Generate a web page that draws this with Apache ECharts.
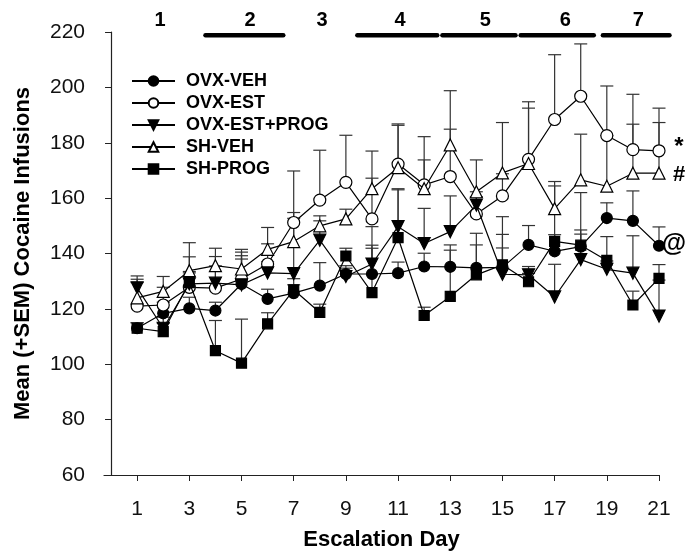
<!DOCTYPE html>
<html><head><meta charset="utf-8">
<script src="https://cdn.jsdelivr.net/npm/echarts@6/dist/echarts.min.js"></script>
<style>html,body{margin:0;padding:0;background:#fff}#c{width:689px;height:558px}</style>
</head><body><div id="c"></div>
<script>
const days = [1,2,3,4,5,6,7,8,9,10,11,12,13,14,15,16,17,18,19,20,21];
const xTicks = [1,3,5,7,9,11,13,15,17,19,21];
const seriesNames = ['OVX-VEH','OVX-EST','OVX-EST+PROG','SH-VEH','SH-PROG'];

const ovxVeh = [113, 118.4, 120.2, 119.4, 129, 123.6, 125.7, 128.4, 132.6, 132.6, 132.9, 135.3, 135.2, 134.8, 135, 143.1, 140.8, 142.5, 152.8, 151.8, 142.8];
const ovxVehErr = [2, 4, 4, 3, 9, 3.5, 3, 8.3, 3, 10.4, 4, 4.8, 6, 12.5, 7, 7, 6, 6, 5.5, 10.8, 6.8];

const ovxEst = [121, 121.4, 127.8, 127.5, 130.8, 136.2, 151.2, 159.3, 165.7, 152.5, 172.3, 164.8, 167.8, 154.3, 160.8, 174, 188.4, 196.8, 182.6, 177.5, 177.1];
const ovxEstErr = [8.5, 6.4, 11, 8, 9.7, 7.3, 18.6, 18, 17, 14.7, 14, 17.4, 17.1, 8, 8, 20.8, 23.4, 18.9, 17.9, 20, 15.4];

const ovxEstProg = [127.6, 113, 129, 129.3, 128.7, 133, 132.7, 144.8, 131.7, 136.2, 149.7, 143.6, 147.9, 157.5, 132.5, 132.3, 124.3, 137.8, 134.3, 132.9, 117.4];
const ovxEstProgErr = [4.3, 4, 4, 9.6, 10.5, 4, 20, 7, 3, 13.5, 13.7, 12.7, 12.9, 3, 14.4, 3, 11.8, 24.2, 3, 13.5, 13];

const shVeh = [124, 126.3, 133.8, 135.6, 134.4, 141.5, 144.3, 150, 152.5, 163.4, 171, 163.4, 179.2, 162.3, 169.1, 172.5, 156.2, 166.6, 164.3, 169, 169];
const shVehErr = [6.7, 5.4, 10.1, 6.3, 7.1, 7.9, 10.5, 3.6, 3.5, 13.6, 15.8, 10.4, 19.6, 11.5, 18.2, 20, 9.8, 16.5, 18.3, 17.7, 18.3];

const shProg = [113, 111.8, 129.5, 104.9, 100.4, 114.6, 126.9, 118.7, 139.1, 125.9, 145.7, 117.6, 124.5, 132.3, 135.9, 129.8, 144.4, 143, 137.5, 121.4, 131];
const shProgErr = [2, 3, 4, 10.9, 15.9, 4, 4, 3, 2.8, 16, 17.3, 3, 18.6, 10.8, 17.4, 3, 20, 4, 8.6, 5, 5];

// block annotations (phase numbers and bars above the plot)
const blockLabels = ['1','2','3','4','5','6','7'];
const blockLabelDay = [1.88, 5.33, 8.09, 11.08, 14.34, 17.41, 20.21];
const blockLabelLevel = 224.3;
const blockBarStart = [3.62, 9.44, 12.7, 15.7, 18.85];
const blockBarEnd = [6.6, 12.5, 15.5, 18.5, 21.4];
const blockBarLevel = 218.8;

// significance marks at day 21
const noteText = ['*', '#', '@'];
const noteLevel = [178.5, 168.5, 143.5];
const noteDay = 21;

const FONT = 'Liberation Sans, Arial, Helvetica, sans-serif';

const allVals = [ovxVeh, ovxEst, ovxEstProg, shVeh, shProg];
const allErrs = [ovxVehErr, ovxEstErr, ovxEstProgErr, shVehErr, shProgErr];
const errData = [];
allVals.forEach((vals, s) => {
  vals.forEach((v, i) => errData.push([days[i], v, v + allErrs[s][i]]));
});

const symbols = [
  {symbol:'circle', size:11, fill:'#000', rot:0},
  {symbol:'circle', size:12, fill:'#fff', rot:0},
  {symbol:'triangle', size:12, fill:'#000', rot:180},
  {symbol:'triangle', size:12, fill:'#fff', rot:0},
  {symbol:'rect', size:10, fill:'#000', rot:0}
];

const lineSeries = seriesNames.map((name, s) => ({
  name: name,
  type: 'line',
  data: days.map((d, i) => [d, allVals[s][i]]),
  symbol: symbols[s].symbol,
  symbolSize: symbols[s].size,
  symbolRotate: symbols[s].rot,
  showAllSymbol: true,
  lineStyle: {color:'#000', width:1.2},
  itemStyle: {color: symbols[s].fill, borderColor:'#000', borderWidth:1.2},
  emphasis: {disabled:true},
  z: 3 + s * 0.01,
  animation: false
}));

const chart = echarts.init(document.getElementById('c'), null, {renderer:'canvas'});
chart.setOption({
  animation: false,
  backgroundColor: '#fff',
  grid: {left: 104, right: 30, top: 32, bottom: 83},
  legend: {
    orient: 'vertical',
    left: 131, top: 72, padding: 0,
    itemWidth: 43, itemHeight: 12, itemGap: 4,
    data: seriesNames,
    textStyle: {fontFamily: FONT, fontWeight:'bold', fontSize: 18, color:'#000', padding:[0,0,0,6]},
    selectedMode: false
  },
  xAxis: {
    type: 'value', min: -0.27, max: 21,
    name: 'Escalation Day', nameLocation: 'middle', nameGap: 54,
    nameTextStyle: {fontFamily: FONT, fontWeight:'bold', fontSize: 22, color:'#000'},
    axisLine: {lineStyle: {color:'#222', width:1.2}},
    axisTick: {customValues: xTicks, length: 6, lineStyle:{color:'#222'}},
    axisLabel: {customValues: xTicks, fontFamily: FONT, fontSize: 21, color:'#111', margin: 24},
    splitLine: {show:false}
  },
  yAxis: {
    type: 'value', min: 60, max: 220, interval: 20,
    name: 'Mean (+SEM) Cocaine Infusions', nameLocation: 'middle', nameGap: 70, nameRotate: 90,
    nameTextStyle: {fontFamily: FONT, fontWeight:'bold', fontSize: 22, color:'#000'},
    axisLine: {show:true, onZero:true, lineStyle: {color:'#222', width:1.2}},
    axisTick: {show:true, length: 6, lineStyle:{color:'#222'}},
    axisLabel: {fontFamily: FONT, fontSize: 21, color:'#111', margin: 19},
    splitLine: {show:false}
  },
  series: [
    {
      type: 'custom', name: 'err', z: 2, silent: true,
      data: errData,
      encode: {x: 0, y: [1, 2]},
      renderItem: function (params, api) {
        const p0 = api.coord([api.value(0), api.value(1)]);
        const p1 = api.coord([api.value(0), api.value(2)]);
        const hw = 6.5;
        const st = {stroke:'#333', lineWidth:1.2};
        return {type:'group', children:[
          {type:'line', shape:{x1:p0[0], y1:p0[1], x2:p1[0], y2:p1[1]}, style:st},
          {type:'line', shape:{x1:p1[0]-hw, y1:p1[1], x2:p1[0]+hw, y2:p1[1]}, style:st}
        ]};
      }
    },
    ...lineSeries,
    {
      type: 'custom', name: 'blocks', silent: true, clip: false,
      data: blockBarStart.map((s, i) => [s, blockBarEnd[i], blockBarLevel]),
      encode: {x: [0, 1], y: 2},
      renderItem: function (params, api) {
        const a = api.coord([api.value(0), api.value(2)]);
        const b = api.coord([api.value(1), api.value(2)]);
        return {type:'line', shape:{x1:a[0], y1:a[1], x2:b[0], y2:b[1]},
          style:{stroke:'#000', lineWidth:4.5, lineCap:'round'}};
      }
    },
    {
      type: 'custom', name: 'blockLabels', silent: true, clip: false,
      data: blockLabelDay.map((d, i) => [d, blockLabelLevel, i]),
      encode: {x: 0, y: 1},
      renderItem: function (params, api) {
        const p = api.coord([api.value(0), api.value(1)]);
        return {type:'text', x:p[0], y:p[1], style:{text: blockLabels[api.value(2)],
          fontFamily: FONT, fontWeight:'bold', fontSize: 20, fill:'#000', align:'center', verticalAlign:'middle'}};
      }
    },
    {
      type: 'custom', name: 'notes', silent: true, clip: false,
      data: noteLevel.map((v, i) => [noteDay, v, i]),
      encode: {x: 0, y: 1},
      renderItem: function (params, api) {
        const p = api.coord([api.value(0), api.value(1)]);
        const i = api.value(2);
        const sizes = [24, 22, 25];
        const dx = [20, 20, 15];
        return {type:'text', x:p[0] + dx[i], y:p[1], style:{text: noteText[i],
          fontFamily: FONT, fontWeight:'bold', fontSize: sizes[i], fill:'#000', align:'center', verticalAlign:'middle'}};
      }
    }
  ]
});
</script>
</body></html>
